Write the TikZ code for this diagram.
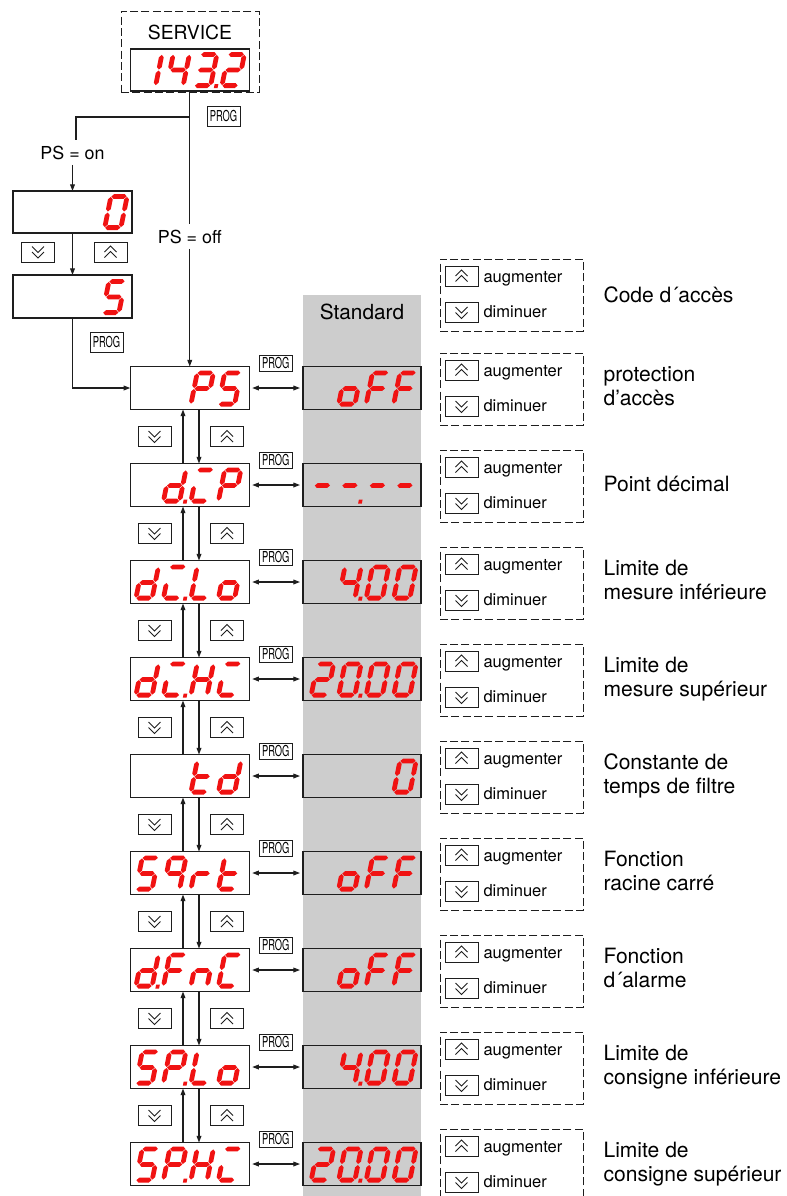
\documentclass[tikz,border=0pt]{standalone}
\usepackage{fontspec}
\setmainfont{TeX Gyre Heros}
\usepackage{graphicx}
\usetikzlibrary{arrows.meta,calc}

\definecolor{segred}{RGB}{240,18,18}
\definecolor{stdgrey}{RGB}{205,205,205}
\definecolor{ink}{RGB}{30,30,30}

% seven-segment pieces in a local frame 21 wide and 36 tall, y pointing up
\newcommand\sgma{\fill (2.9,33.6) -- (5.3,36) -- (15.7,36) -- (18.1,33.6) -- (15.7,31.2) -- (5.3,31.2) -- cycle;}
\newcommand\sgmg{\fill (2.9,18) -- (5.3,20.4) -- (15.7,20.4) -- (18.1,18) -- (15.7,15.6) -- (5.3,15.6) -- cycle;}
\newcommand\sgmd{\fill (2.9,2.4) -- (5.3,4.8) -- (15.7,4.8) -- (18.1,2.4) -- (15.7,0) -- (5.3,0) -- cycle;}
\newcommand\sgmf{\fill (2.4,18.5) -- (4.8,20.9) -- (4.8,30.7) -- (2.4,33.1) -- (0,30.7) -- (0,20.9) -- cycle;}
\newcommand\sgme{\fill (2.4,2.9) -- (4.8,5.3) -- (4.8,15.1) -- (2.4,17.5) -- (0,15.1) -- (0,5.3) -- cycle;}
\newcommand\sgmb{\fill (18.6,18.5) -- (21,20.9) -- (21,30.7) -- (18.6,33.1) -- (16.2,30.7) -- (16.2,20.9) -- cycle;}
\newcommand\sgmc{\fill (18.6,2.9) -- (21,5.3) -- (21,15.1) -- (18.6,17.5) -- (16.2,15.1) -- (16.2,5.3) -- cycle;}
\newcommand\sgmp{\fill (22.3,0) rectangle (26,3.8);}

% glyph table; "X." is the same glyph with its decimal point lit
\newcommand\defglyph[2]{%
  \expandafter\def\csname glyph#1\endcsname{#2}%
  \expandafter\def\csname glyph#1.\endcsname{#2\sgmp}}
\defglyph{0}{\sgma\sgmb\sgmc\sgmd\sgme\sgmf}
\defglyph{1}{\sgmb\sgmc}
\defglyph{2}{\sgma\sgmb\sgmg\sgme\sgmd}
\defglyph{3}{\sgma\sgmb\sgmg\sgmc\sgmd}
\defglyph{4}{\sgmf\sgmg\sgmb\sgmc}
\defglyph{5}{\sgma\sgmf\sgmg\sgmc\sgmd}
\defglyph{9}{\sgma\sgmb\sgmf\sgmg\sgmc}
\defglyph{P}{\sgma\sgmb\sgmf\sgmg\sgme}
\defglyph{d}{\sgmb\sgmc\sgmd\sgme\sgmg}
\defglyph{C}{\sgma\sgme\sgmd}
\defglyph{Cf}{\sgma\sgmf\sgme\sgmd}
\defglyph{L}{\sgmf\sgme\sgmd}
\defglyph{o}{\sgmc\sgmd\sgme\sgmg}
\defglyph{H}{\sgmf\sgme\sgmb\sgmc\sgmg}
\defglyph{F}{\sgma\sgmf\sgme\sgmg}
\defglyph{n}{\sgme\sgmg\sgmc}
\defglyph{t}{\sgmf\sgme\sgmg\sgmd}
\defglyph{r}{\sgme\sgmg}
\defglyph{-}{\sgmg}

% right-aligned LED readout inside a box: node, right margin, glyph count, glyphs
\newcommand\segdisp[4]{%
  \foreach \gname [count=\k] in {#4} {%
    \begin{scope}[shift={($(#1.south east)+(-#2,-3)$)}, shift={({-28.2-(#3-\k)*27.5},0)},
                  y=0.75pt, xslant=0.2, fill=segred]
      \csname glyph\gname\endcsname
    \end{scope}}}

\newcommand\progtext{\scalebox{0.62}[1]{PROG}}

% push-button keys with double chevrons
\newcommand\upkey[2]{%
  \node[key] (#1) at (#2) {};
  \draw[chev] ($(#1)+(-6,0)$) -- ($(#1)+(0,-6)$) -- ($(#1)+(6,0)$);
  \draw[chev] ($(#1)+(-6,5.5)$) -- ($(#1)+(0,-0.5)$) -- ($(#1)+(6,5.5)$);}
\newcommand\downkey[2]{%
  \node[key] (#1) at (#2) {};
  \draw[chev] ($(#1)+(-6,0)$) -- ($(#1)+(0,6)$) -- ($(#1)+(6,0)$);
  \draw[chev] ($(#1)+(-6,-5.5)$) -- ($(#1)+(0,0.5)$) -- ($(#1)+(6,-5.5)$);}

% dashed panel explaining the two keys
\newcommand\hintpanel[2]{%
  \node[hintbox] (#1) at (511.5,#2) {};
  \upkey{#1u}{461.5,#2-19}
  \downkey{#1d}{461.5,#2+17.5}
  \node[hint] (#1ut) at (483,#2-12.5) {augmenter};
  \node[hint] (#1dt) at (483,#2+22.5) {diminuer};}

% one menu line: index, parameter glyphs, count, default glyphs, count
\newcommand\menurow[5]{%
  \pgfmathsetmacro\cy{388+97*#1}
  \node[lbox] (b#1) at (189.75,\cy) {};
  \node[sbox] (s#1) at (362,\cy) {};
  \segdisp{b#1}{5.5}{#3}{#2}
  \segdisp{s#1}{2}{#5}{#4}
  \node[prog] (p#1) at (275.8,\cy-25) {\progtext};
  \draw[darr] ($(b#1.east)+(3,0)$) -- ($(s#1.west)+(-3,0)$);
  \hintpanel{h#1}{\cy+1}}

\begin{document}
\begin{tikzpicture}[x=0.75pt, y=-0.75pt, line width=0.8pt, draw=ink,
  lbox/.style={draw=ink, fill=white, minimum width=89.25pt, minimum height=32.25pt, inner sep=0pt, outer sep=0pt},
  sbox/.style={draw=ink, fill=stdgrey, minimum width=88.5pt, minimum height=32.25pt, inner sep=0pt, outer sep=0pt},
  prog/.style={draw=ink, line width=0.7pt, fill=white, minimum width=24.75pt, minimum height=12pt, inner sep=0pt, outer sep=0pt, font=\fontsize{11.3}{12}\selectfont},
  progtall/.style={prog, minimum height=15pt},
  key/.style={draw=ink, line width=0.7pt, fill=white, minimum width=24.75pt, minimum height=15pt, inner sep=0pt, outer sep=0pt},
  chev/.style={draw=ink, line width=0.6pt},
  hintbox/.style={draw=ink, line width=0.7pt, dash pattern=on 6pt off 2.5pt, minimum width=107.25pt, minimum height=54pt, inner sep=0pt},
  hint/.style={anchor=base west, inner sep=0pt, font=\fontsize{12.4}{14}\selectfont},
  lab/.style={anchor=base west, inner sep=0pt, font=\fontsize{15.8}{19}\selectfont},
  cond/.style={anchor=base, inner xsep=0pt, inner ysep=3.75pt, font=\fontsize{13.4}{15}\selectfont},
  arr/.style={draw=ink, -{Triangle[length=5pt,width=3.6pt]}},
  darr/.style={draw=ink, {Triangle[length=5pt,width=3.6pt]}-{Triangle[length=5pt,width=3.6pt]}}]
\useasboundingbox (0,0) rectangle (786,1196);

% column of factory defaults
\fill[stdgrey] (303,295) rectangle (421,1196);
\node[anchor=base, inner sep=0pt, font=\fontsize{15.6}{18}\selectfont] (stdtitle) at (362,319) {Standard};

% service entry display
\node[hintbox, minimum width=103.5pt, minimum height=60.75pt] (svc) at (190,51.5) {};
\node[anchor=base, inner sep=0pt, font=\fontsize{14.5}{17}\selectfont] (svctitle) at (190,39) {SERVICE};
\node[lbox, minimum height=31.5pt] (srv) at (189.75,70) {};
\segdisp{srv}{2}{4}{1,4,3.,2}
\node[progtall] (pg0) at (223.5,116) {\progtext};
\coordinate (fork) at ($(srv.south)+(0,26)$);

% branch taken when access protection is on
\node[cond] (pson) at (72.5,159) {PS = on};
\node[cond] (psoff) at (189.75,243) {PS = off};
\draw (srv.south) -- (psoff.north);
\draw (fork) -| ($(pson.north)+(3.5,0)$);
\node[lbox, minimum height=31.5pt] (z0) at (72.5,212) {};
\segdisp{z0}{2}{1}{0}
\node[lbox] (z5) at (72.5,296.5) {};
\segdisp{z5}{4}{1}{5}
\draw[arr] (pson.south) -- (z0.north);
\draw[arr] (z0.south) -- (z5.north);
\downkey{zkd}{38,252}
\upkey{zku}{110.5,252}
\node[progtall] (pg1) at (106.5,342.5) {\progtext};

% access code panel
\hintpanel{hc}{295}
\node[lab] (lcode) at (603,302) {Code d´accès};

% parameter menu
\menurow{0}{P,5}{2}{o,F,F}{3}
\menurow{1}{d.,C,P}{3}{-,-.,-,-}{4}
\menurow{2}{d,C.,L,o}{4}{4.,0,0}{3}
\menurow{3}{d,C.,H,C}{4}{2,0.,0,0}{4}
\menurow{4}{t,d}{2}{0}{1}
\menurow{5}{5,9,r,t}{4}{o,F,F}{3}
\menurow{6}{d.,F,n,Cf}{4}{o,F,F}{3}
\menurow{7}{5,P.,L,o}{4}{4.,0,0}{3}
\menurow{8}{5,P.,H,C}{4}{2,0.,0,0}{4}

\draw[arr] (psoff.south) -- (psoff.south |- b0.north);
\draw[arr] (z5.south) |- (b0.west);

% stepping between parameters
\foreach \i [evaluate=\i as \j using int(\i+1), evaluate=\i as \ky using 388+97*\i+48.5] in {0,...,7} {
  \draw[arr] ($(b\j.north)+(-6.75,0)$) -- ($(b\i.south)+(-6.75,0)$);
  \draw[arr] ($(b\i.south)+(9.25,0)$) -- ($(b\j.north)+(9.25,0)$);
  \downkey{kd\i}{154.5,\ky}
  \upkey{ku\i}{227,\ky}
}

% parameter descriptions
\node[lab] (la1) at (603,491) {Point décimal};
\foreach \i/\la/\lb in {0/protection/d'accès, 2/Limite de/mesure inférieure,
    3/Limite de/mesure supérieur, 4/Constante de/temps de filtre,
    5/Fonction/racine carré, 6/Fonction/d´alarme,
    7/Limite de/consigne inférieure, 8/Limite de/consigne supérieur} {
  \pgfmathsetmacro\cy{388+97*\i}
  \node[lab] (la\i) at (603,\cy-7) {\la};
  \node[lab] (lb\i) at (603,\cy+17) {\lb};
}
\end{tikzpicture}
\end{document}
